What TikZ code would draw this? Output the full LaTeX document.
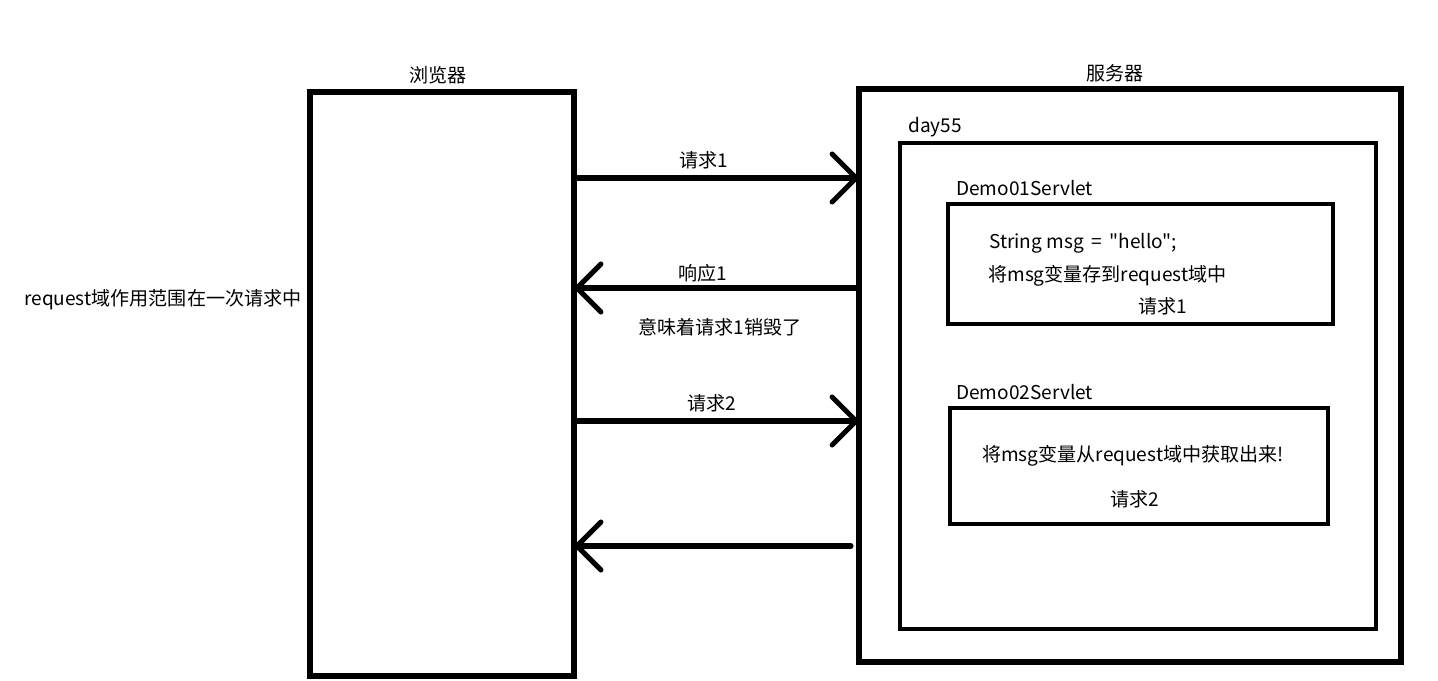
\documentclass[tikz,border=0pt]{standalone}
\usepackage{fontspec}
\setmainfont{Noto Sans CJK SC}[Ligatures=TeXOff]
\usetikzlibrary{arrows.meta,fit}
\begin{document}
\begin{tikzpicture}[x=0.75pt,y=-0.75pt,
  box/.style={draw, line width=4pt, inner sep=0pt},
  lbl/.style={font=\fontsize{14.3}{16}\selectfont, inner sep=0pt},
  arr/.style={line width=3.8pt, line cap=round, shorten >=-2.5pt, -{Straight Barb[length=18pt,width=36pt,line cap=round]}}]
\useasboundingbox (0,0) rectangle (1438,681);
\fill[white] (0,0) rectangle (1438,681);
% boxes
\node[box, fit={(310,92) (574,676)}] (browser) {};
\node[box, fit={(859,89) (1401,662)}] (server) {};
\node[box, line width=3.6pt, fit={(900,143) (1376,629)}] (day) {};
\node[box, line width=3.6pt, fit={(948,204) (1333,324)}] (demo1) {};
\node[box, line width=3.6pt, fit={(950,408) (1328,524)}] (demo2) {};
% labels
\node[lbl] (lbrowser) at (438,75) {浏览器};
\node[lbl] (lserver) at (1115,73) {服务器};
\node[lbl, anchor=west] (lday) at (908,127) {day55};
\node[lbl, anchor=west] (ldemo1) at (956,188) {Demo01Servlet};
\node[lbl, anchor=west] (t1) at (989,243) {String msg \,=\, "hello";};
\node[lbl, anchor=west] (t2) at (988,276) {将msg变量存到request域中};
\node[lbl] (t3) at (1163,306) {请求1};
\node[lbl, anchor=west] (ldemo2) at (956,392) {Demo02Servlet};
\node[lbl] (t4) at (1133,456) {将msg变量从request域中获取出来!};
\node[lbl] (t5) at (1135,499) {请求2};
\node[lbl, anchor=west] (scope) at (24,300) {request域作用范围在一次请求中};
% arrow coordinates
\coordinate (r1) at (0,178);
\coordinate (s1) at (0,288);
\coordinate (r2) at (0,421);
\coordinate (s2a) at (851,546);
\coordinate (s2) at (0,546);
\draw[arr] (browser.east |- r1) -- (server.west |- r1);
\draw[arr] (server.west |- s1) -- (browser.east |- s1);
\draw[arr] (browser.east |- r2) -- (server.west |- r2);
\draw[arr] (s2a) -- (browser.east |- s2);
% arrow labels
\node[lbl] (a1) at (704,160) {请求1};
\node[lbl] (a2) at (703,273) {响应1};
\node[lbl] (a3) at (720,327) {意味着请求1销毁了};
\node[lbl] (a4) at (712,403) {请求2};
\end{tikzpicture}
\end{document}
